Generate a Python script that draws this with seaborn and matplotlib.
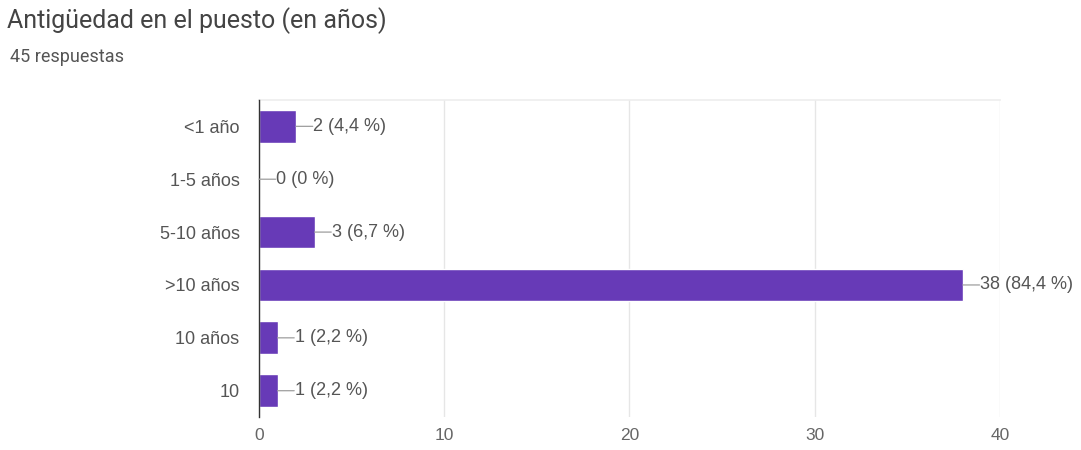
import matplotlib
matplotlib.use("Agg")
import matplotlib.pyplot as plt
import seaborn as sns
import pandas as pd

categories = ["<1 año", "1-5 años", "5-10 años", ">10 años", "10 años", "10"]
counts = [2, 0, 3, 38, 1, 1]
percent_labels = ["4,4", "0", "6,7", "84,4", "2,2", "2,2"]
total_responses = 45
x_ticks = [0, 10, 20, 30, 40]

title = "Antigüedad en el puesto (en años)"
subtitle = f"{total_responses} respuestas"

sns.set_theme(style="white")
plt.rcParams["font.family"] = ["Liberation Sans", "DejaVu Sans"]

bar_color = "#673ab7"
text_color = "#555555"
label_size = 13

df = pd.DataFrame({"categoria": categories, "n": counts})

fig = plt.figure(figsize=(10.81, 4.5), dpi=100)
ax = fig.add_axes([0.2396, 0.073, 0.6854, 0.705])

sns.barplot(data=df, x="n", y="categoria", orient="h", color=bar_color,
            saturation=1, width=0.62, ax=ax, zorder=3)

ax.set_xlim(0, 40)
ax.set_xticks(x_ticks)
ax.set_xticklabels([str(t) for t in x_ticks], color="#666666", fontsize=12.5)
ax.tick_params(axis="y", labelsize=label_size, labelcolor=text_color, length=0, pad=14)
ax.tick_params(axis="x", length=0, pad=8)
ax.set_xlabel("")
ax.set_ylabel("")

ax.grid(axis="x", color="#e6e6e6", linewidth=1, zorder=0)
for side in ["right", "bottom"]:
    ax.spines[side].set_visible(False)
ax.spines["top"].set_color("#eeeeee")
ax.spines["left"].set_color("#333333")
ax.spines["left"].set_linewidth(1.0)
ax.spines["left"].set_zorder(4)

# value labels with a short leader line from the bar end
for i, (n, pct) in enumerate(zip(counts, percent_labels)):
    ax.annotate(f"{n} ({pct} %)", xy=(n, i), xytext=(12.5, 0),
                textcoords="offset points", va="center", ha="left",
                fontsize=label_size, color=text_color, zorder=5)
    ax.annotate("", xy=(n, i), xytext=(12, 0), textcoords="offset points",
                arrowprops=dict(arrowstyle="-", color="#9e9e9e", lw=0.9,
                                shrinkA=0, shrinkB=0), zorder=5)

fig.text(0.0065, 0.955, title, fontsize=18, color="#444444", va="center",
         family=["Roboto", "DejaVu Sans"])
fig.text(0.009, 0.873, subtitle, fontsize=13, color="#555555", va="center",
         family=["Roboto", "DejaVu Sans"])

fig.savefig("out.png", dpi=100)
